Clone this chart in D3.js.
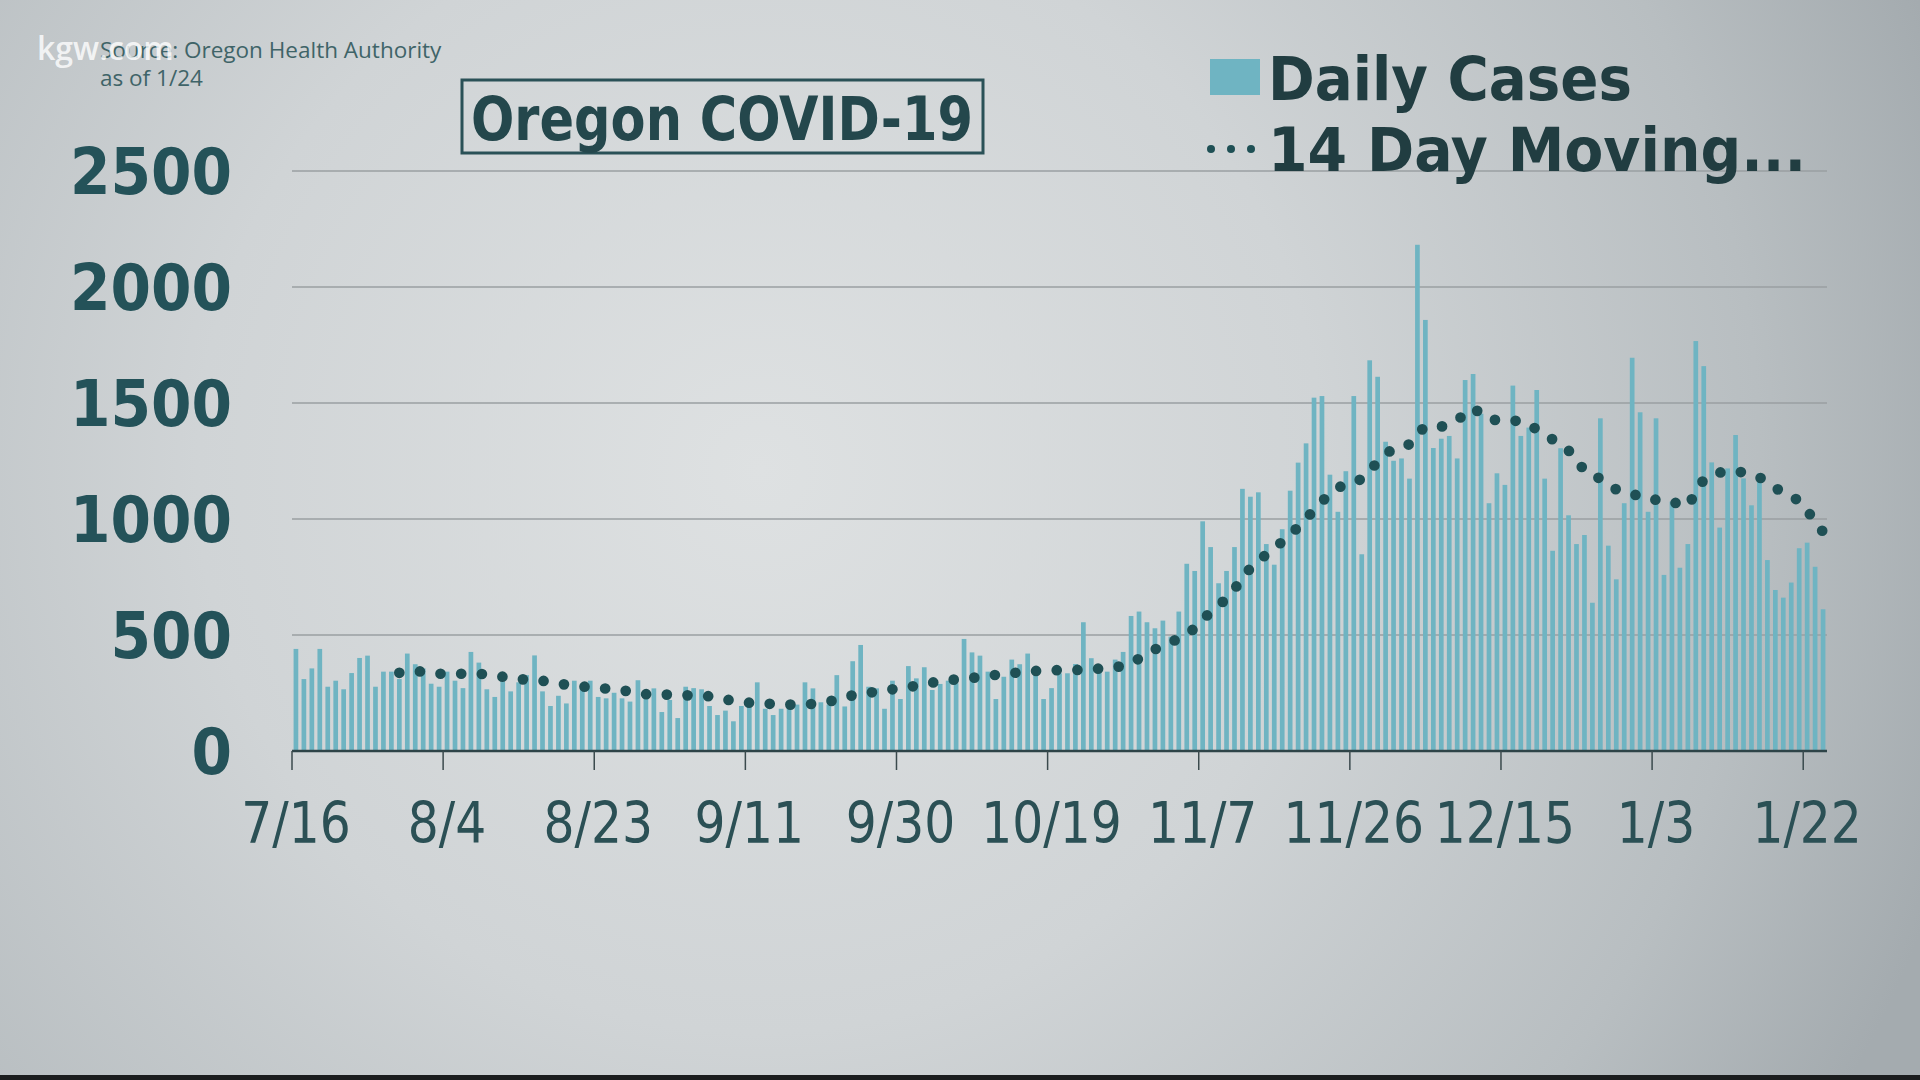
<!DOCTYPE html>
<html><head><meta charset="utf-8">
<script src="https://cdn.jsdelivr.net/npm/d3@7"></script>
<style>html,body{margin:0;padding:0;overflow:hidden;background:#c8cdcf}</style>
</head><body>
<script>
// ---- data ----
const startDate = "2020-07-16";
const dailyCases = [
440,310,356,440,277,303,266,336,401,411,277,342,342,310,420,374,356,290,277,342,
303,271,427,381,266,233,299,257,296,327,412,257,194,238,205,303,290,303,233,227,
251,227,213,305,250,270,168,220,142,277,271,266,194,155,174,128,194,190,296,182,
155,182,194,200,296,270,210,200,327,192,387,457,277,270,182,303,224,366,313,361,
263,289,303,292,483,425,411,342,224,320,394,374,420,340,224,271,335,335,375,555,
400,349,342,394,427,582,601,555,529,562,493,601,807,776,990,879,723,776,879,1130,
1096,1115,892,803,956,1122,1243,1326,1523,1530,1191,1031,1206,1530,848,1684,1613,1333,1251,1261,
1174,2182,1858,1306,1346,1358,1261,1599,1625,1454,1068,1197,1147,1575,1358,1394,1556,1174,863,1305,
1016,892,931,639,1434,885,740,1068,1695,1460,1031,1434,759,1075,790,892,1767,1659,1244,963,
1218,1362,1175,1059,1197,823,694,661,726,874,898,794,611
];
const maStartIndex = 13;
const movingAvg = [
337,340,344,342,337,333,333,333,333,333,333,330,325,320,316,311,307,304,303,296,
290,286,282,278,275,272,269,266,262,256,250,245,244,243,243,242,240,239,237,236,
230,222,217,212,208,206,204,203,201,200,200,201,203,207,213,222,232,240,246,251,
256,261,266,271,276,281,287,295,299,304,309,312,315,319,324,328,332,336,339,342,
345,346,347,349,349,349,350,353,355,358,362,366,380,398,418,438,453,469,485,506,
528,565,600,628,656,700,740,790,820,847,875,902,933,965,1000,1040,1075,1110,1133,1153,
1160,1172,1210,1245,1278,1305,1312,1322,1370,1397,1398,1398,1410,1425,1455,1478,1455,1428,1427,1427,
1425,1420,1410,1385,1363,1343,1323,1295,1262,1205,1185,1175,1150,1127,1118,1109,1096,1084,1083,1084,
1075,1062,1055,1115,1170,1190,1200,1208,1205,1201,1192,1180,1158,1132,1118,1102,1075,1039,985,945
];
const yTicks = [0,500,1000,1500,2000,2500];
const xTickLabels = ["7/16","8/4","8/23","9/11","9/30","10/19","11/7","11/26","12/15","1/3","1/22"];
const xTickEvery = 19;
const title = "Oregon COVID-19";
const legendLabels = ["Daily Cases","14 Day Moving..."];
const sourceLines = ["Source: Oregon Health Authority","as of 1/24"];

// ---- drawing ----
const W = 1920, H = 1080;
const svg = d3.select("body").append("svg").attr("width", W).attr("height", H);
const defs = svg.append("defs");
const grad = defs.append("radialGradient").attr("id","bg")
  .attr("gradientUnits","userSpaceOnUse").attr("cx",760).attr("cy",470).attr("r",1250);
grad.append("stop").attr("offset",0).attr("stop-color","#dee1e2");
grad.append("stop").attr("offset",0.45).attr("stop-color","#d0d4d6");
grad.append("stop").attr("offset",0.8).attr("stop-color","#b8bec1");
grad.append("stop").attr("offset",1).attr("stop-color","#a4abaf");
svg.append("rect").attr("width",W).attr("height",H).attr("fill","url(#bg)");
svg.append("rect").attr("x",0).attr("y",1075).attr("width",W).attr("height",5).attr("fill","#1b1d1e");

const days = dailyCases.map((v,i)=>i);
const x = d3.scaleBand().domain(days).range([292,1827]).paddingInner(0.41).paddingOuter(0.2);
const step = x.step();
const y = d3.scaleLinear().domain([0,2500]).range([751,171]);
const textCol = "#245259";

// gridlines
svg.append("g").selectAll("line").data(yTicks.filter(t=>t>0)).join("line")
  .attr("x1",292).attr("x2",1827).attr("y1",d=>y(d)).attr("y2",d=>y(d))
  .attr("stroke","#9a9fa2").attr("stroke-width",1.6);

// y labels
svg.append("g").selectAll("text").data(yTicks).join("text")
  .attr("transform",d=>`translate(232,${y(d)+23}) scale(0.91,1)`)
  .attr("text-anchor","end").attr("font-family","DejaVu Sans").attr("font-weight","bold")
  .attr("font-size",64).attr("fill",textCol).text(d=>d);

// bars
svg.append("g").selectAll("rect").data(dailyCases).join("rect")
  .attr("x",(d,i)=>x(i)).attr("width",x.bandwidth())
  .attr("y",d=>y(d)).attr("height",d=>y(0)-y(d)).attr("fill","#6fb4c2");

// baseline axis + ticks
const tickIdx = xTickLabels.map((l,k)=>k*xTickEvery);
const bandLeft = i => 292 + i*step;
svg.append("line").attr("x1",292).attr("x2",1827).attr("y1",y(0)).attr("y2",y(0))
  .attr("stroke","#2e4448").attr("stroke-width",2.5);
svg.append("g").selectAll("line").data(tickIdx).join("line")
  .attr("x1",d=>bandLeft(d)).attr("x2",d=>bandLeft(d)).attr("y1",y(0)).attr("y2",770)
  .attr("stroke","#3b4a4d").attr("stroke-width",1.5);
svg.append("g").selectAll("text").data(tickIdx).join("text")
  .attr("transform",d=>`translate(${x(d)+x.bandwidth()/2},843) scale(0.87,1)`)
  .attr("text-anchor","middle").attr("font-family","DejaVu Sans")
  .attr("font-size",56).attr("fill","#2b5055").text((d,k)=>xTickLabels[k]);

// moving average dotted line
const maData = movingAvg.map((v,k)=>({i:k+maStartIndex,v}));
const line = d3.line().x(d=>x(d.i)+x.bandwidth()/2).y(d=>y(d.v));
svg.append("path").datum(maData).attr("d",line).attr("fill","none")
  .attr("stroke","#1f5055").attr("stroke-width",10.7).attr("stroke-linecap","round")
  .attr("stroke-dasharray","0 20.7");

// title
svg.append("rect").attr("x",462).attr("y",80).attr("width",521).attr("height",73)
  .attr("fill","none").attr("stroke","#2a5157").attr("stroke-width",3);
svg.append("text").attr("x",471).attr("y",140).attr("textLength",502).attr("lengthAdjust","spacingAndGlyphs")
  .attr("font-family","DejaVu Sans").attr("font-weight","bold").attr("font-size",61)
  .attr("fill","#24474c").text(title);

// legend
svg.append("rect").attr("x",1210).attr("y",59).attr("width",50).attr("height",36).attr("fill","#6fb4c2");
svg.append("text").attr("x",1268).attr("y",100).attr("textLength",364).attr("lengthAdjust","spacingAndGlyphs")
  .attr("font-family","DejaVu Sans").attr("font-weight","bold").attr("font-size",61)
  .attr("fill","#213d41").text(legendLabels[0]);
svg.append("g").selectAll("circle").data([1211,1231,1251]).join("circle")
  .attr("cx",d=>d).attr("cy",149).attr("r",4).attr("fill","#1f5055");
svg.append("text").attr("x",1268).attr("y",171).attr("textLength",538).attr("lengthAdjust","spacingAndGlyphs")
  .attr("font-family","DejaVu Sans").attr("font-weight","bold").attr("font-size",61)
  .attr("fill","#213d41").text(legendLabels[1]);

// source
svg.append("g").selectAll("text").data(sourceLines).join("text")
  .attr("x",100).attr("y",(d,i)=>58+i*28).attr("font-family","Open Sans")
  .attr("font-size",22.5).attr("fill","#3f6468").text(d=>d);
// watermark
svg.append("text").attr("x",37).attr("y",60).attr("font-family","Open Sans").attr("font-weight","600")
  .attr("font-size",32).attr("fill","#ffffff").attr("fill-opacity",0.8).text("kgw.com");
</script>
</body></html>
